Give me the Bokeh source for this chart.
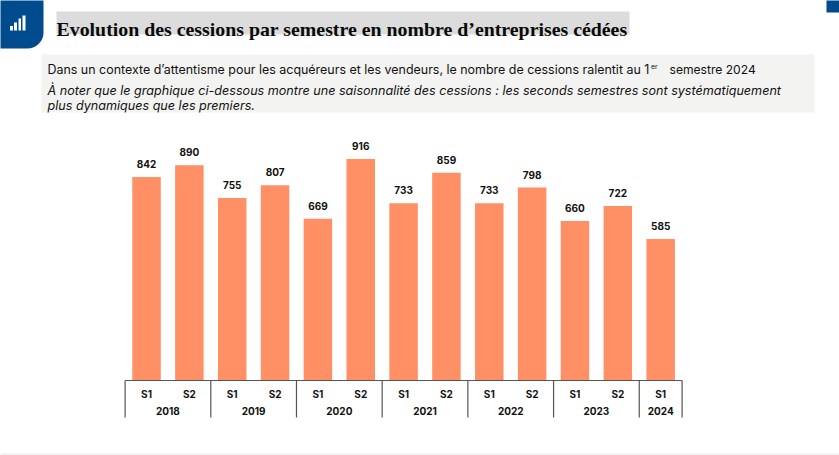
from bokeh.plotting import figure
from bokeh.models import Range1d, Label, BoxAnnotation, ColumnDataSource
from bokeh.core.properties import value
from bokeh.embed import file_html
from bokeh.resources import INLINE

years = ["2018", "2018", "2019", "2019", "2020", "2020", "2021", "2021", "2022", "2022", "2023", "2023", "2024"]
semesters = ["S1", "S2", "S1", "S2", "S1", "S2", "S1", "S2", "S1", "S2", "S1", "S2", "S1"]
cessions = [842, 890, 755, 807, 669, 916, 733, 859, 733, 798, 660, 722, 585]

TITLE = "Evolution des cessions par semestre en nombre d’entreprises cédées"
LINE1 = "Dans un contexte d’attentisme pour les acquéreurs et les vendeurs, le nombre de cessions ralentit au 1"
SUP = "er"
LINE1B = "semestre 2024"
LINE2 = "À noter que le graphique ci-dessous montre une saisonnalité des cessions : les seconds semestres sont systématiquement"
LINE3 = "plus dynamiques que les premiers."

BLUE = "#004B8D"
ORANGE = "#FF9066"
AXIS = "#555555"
FONT = "Inter"
WIDTH, HEIGHT = 839, 455
LEFT, RIGHT, BASE = 124.6, 681.6, 380
STEP = (RIGHT - LEFT) / len(cessions)
PX_PER_UNIT = 0.2418


def below(px):
    return -px / PX_PER_UNIT


p = figure(width=WIDTH, height=HEIGHT,
           x_range=Range1d(-LEFT / STEP - 0.5, (WIDTH - LEFT) / STEP - 0.5),
           y_range=Range1d(below(HEIGHT - BASE), BASE / PX_PER_UNIT),
           output_backend="svg", toolbar_location=None, min_border=0,
           outline_line_color=None, background_fill_color="white")
p.xgrid.visible = False
p.ygrid.visible = False
p.xaxis.visible = False
p.yaxis.visible = False

xs = list(range(len(cessions)))
src = ColumnDataSource(dict(x=xs, top=cessions, label=[str(v) for v in cessions], sem=semesters))
p.vbar(x="x", top="top", width=0.665, bottom=0, source=src, fill_color=ORANGE, line_color=None)
p.text(x="x", y="top", text="label", source=src, text_align="center", text_baseline="bottom", y_offset=-9,
       text_font=value(FONT), text_font_size="10px", text_font_style="bold", text_color="#111111")

# hierarchical axis: semester row, year row, separators at the year boundaries
n = len(years)
p.text(x=xs, y=[below(13)] * n, text=semesters, text_align="center", text_baseline="middle",
       text_font=value(FONT), text_font_size="10px", text_font_style="bold", text_color="#111111")
edges = [0] + [i for i in range(1, n) if years[i] != years[i - 1]] + [n]
group_x = [(a + b) / 2 - 0.5 for a, b in zip(edges[:-1], edges[1:])]
group_labels = [years[a] for a in edges[:-1]]
p.text(x=group_x, y=[below(30.5)] * len(group_x), text=group_labels, text_align="center", text_baseline="middle",
       text_font=value(FONT), text_font_size="10px", text_font_style="bold", text_color="#111111")
sep_x = [e - 0.5 for e in edges]
p.segment(x0=sep_x, x1=sep_x, y0=[0] * len(sep_x), y1=[below(37)] * len(sep_x), line_color=AXIS, line_width=1.2)
p.segment(x0=[-0.5], x1=[n - 0.5], y0=[0], y1=[0], line_color=AXIS, line_width=1.2)


def box(l, t, r, b, color, radius=0):
    p.add_layout(BoxAnnotation(left=l, right=r, top=t, bottom=b,
                               left_units="canvas", right_units="canvas", top_units="canvas", bottom_units="canvas",
                               fill_color=color, fill_alpha=1, line_color=None, level="underlay",
                               border_radius=radius))


def text(x, y, s, font, size, style="normal", color="#111111"):
    p.add_layout(Label(x=x, y=y, x_units="canvas", y_units="canvas", text=s, text_font=font,
                       text_font_size=size, text_font_style=style, text_color=color,
                       text_baseline="alphabetic"))


box(-10, -10, 43, 48, BLUE, dict(top_left=0, top_right=0, bottom_left=0, bottom_right=16))
box(826, -10, 850, 12, BLUE)
box(56, 11, 629, 34, "#DCDCDC")
box(41, 54, 814, 112, "#F3F3F2")
box(0, 453, WIDTH, 455, "#F0F0F0")
for l, t, r in [(9.5, 25.5, 12.5), (13.5, 22, 16.5), (18, 18, 20.5), (22, 15, 25)]:
    box(l, t, r, 30, "white")

text(56, 28, TITLE, "Liberation Serif", "19.85px", "bold", "#0A0A0A")
text(47, 69, LINE1, FONT, "12.45px")
text(650.5, 65.5, SUP, FONT, "7px")
text(669, 69, LINE1B, FONT, "12.1px")
text(47, 90, LINE2, FONT, "12.6px", "italic")
text(47, 105, LINE3, FONT, "12.6px", "italic")

open("out.html", "w").write(file_html(p, INLINE))
